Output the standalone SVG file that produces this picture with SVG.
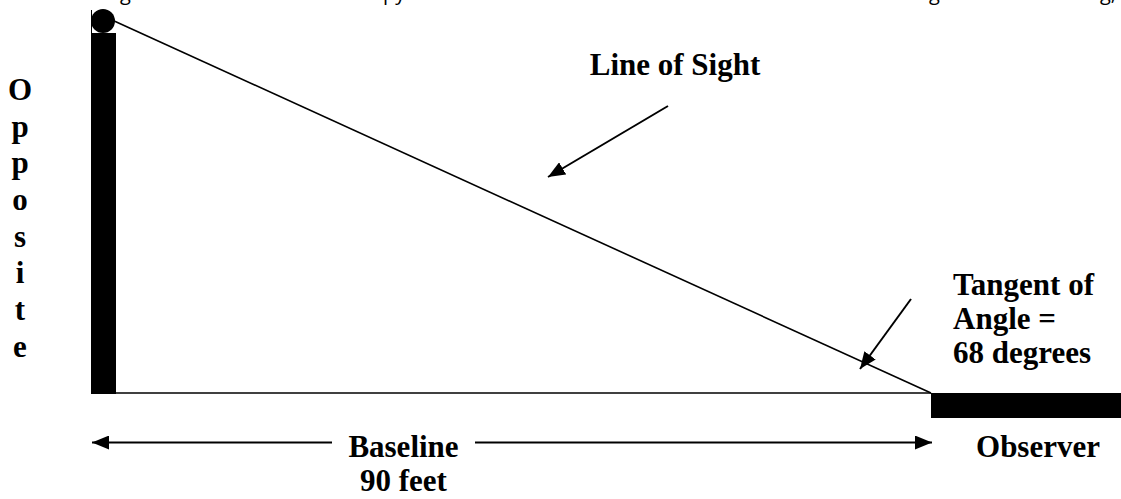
<svg xmlns="http://www.w3.org/2000/svg" width="1121" height="499" viewBox="0 0 1121 499">
  <style>
    .lbl { font-family: "Liberation Serif", "Times New Roman", serif; font-weight: bold; font-size: 31px; fill: #000; }
    .frag { font-family: "Open Sans", "Noto Sans", sans-serif; font-size: 20px; fill: #000; }
    .ln { stroke: #000; stroke-width: 2; fill: none; }
    .thin { stroke: #000; stroke-width: 1.6; fill: none; }
  </style>
  <defs>
    <marker id="arrow" markerUnits="userSpaceOnUse" markerWidth="17" markerHeight="14" refX="17" refY="7" orient="auto">
      <path d="M0,0 L17,7 L0,14 Z" fill="#000"/>
    </marker>
  </defs>
  <rect width="1121" height="499" fill="#fff"/>

  <g id="page-fragment">
    <text class="frag" x="120" y="-0.5">g</text>
    <text class="frag" x="383" y="-0.5">py</text>
    <text class="frag" x="929" y="-0.5">g</text>
    <text class="frag" x="1100" y="-0.5">g,</text>
  </g>

  <g id="pole">
    <rect x="91" y="33" width="25" height="361" fill="#000"/>
    <line x1="91.5" y1="10" x2="91.5" y2="34" stroke="#000" stroke-width="1"/>
    <circle cx="103" cy="21" r="12" fill="#000"/>
  </g>

  <g id="observer">
    <rect x="931" y="393" width="190" height="25" fill="#000"/>
  </g>

  <g id="connectors">
    <line class="thin" x1="112" y1="20" x2="931" y2="393"/>
    <line class="thin" x1="116" y1="393" x2="931" y2="393"/>
    <line class="ln" x1="668" y1="106" x2="548" y2="177" marker-end="url(#arrow)"/>
    <line class="ln" x1="911" y1="299" x2="860" y2="369" marker-end="url(#arrow)"/>
    <line class="ln" x1="332" y1="442.5" x2="92" y2="442.5" marker-end="url(#arrow)"/>
    <line class="ln" x1="475" y1="442.5" x2="932" y2="442.5" marker-end="url(#arrow)"/>
  </g>

  <g id="label-line-of-sight">
    <text class="lbl" x="675" y="75" text-anchor="middle">Line of Sight</text>
  </g>

  <g id="label-opposite">
    <text class="lbl" text-anchor="middle" x="20" y="100">O</text>
    <text class="lbl" text-anchor="middle" x="20" y="136.7">p</text>
    <text class="lbl" text-anchor="middle" x="20" y="173.3">p</text>
    <text class="lbl" text-anchor="middle" x="20" y="210">o</text>
    <text class="lbl" text-anchor="middle" x="20" y="246.7">s</text>
    <text class="lbl" text-anchor="middle" x="20" y="283.3">i</text>
    <text class="lbl" text-anchor="middle" x="20" y="320">t</text>
    <text class="lbl" text-anchor="middle" x="20" y="356.7">e</text>
  </g>

  <g id="label-tangent">
    <text class="lbl" x="953" y="295">Tangent of</text>
    <text class="lbl" x="953" y="329">Angle =</text>
    <text class="lbl" x="953" y="363">68 degrees</text>
  </g>

  <g id="label-baseline">
    <text class="lbl" x="403.5" y="457" text-anchor="middle">Baseline</text>
    <text class="lbl" x="403.5" y="490.7" text-anchor="middle">90 feet</text>
  </g>

  <g id="label-observer">
    <text class="lbl" x="1038" y="457" text-anchor="middle">Observer</text>
  </g>
</svg>
